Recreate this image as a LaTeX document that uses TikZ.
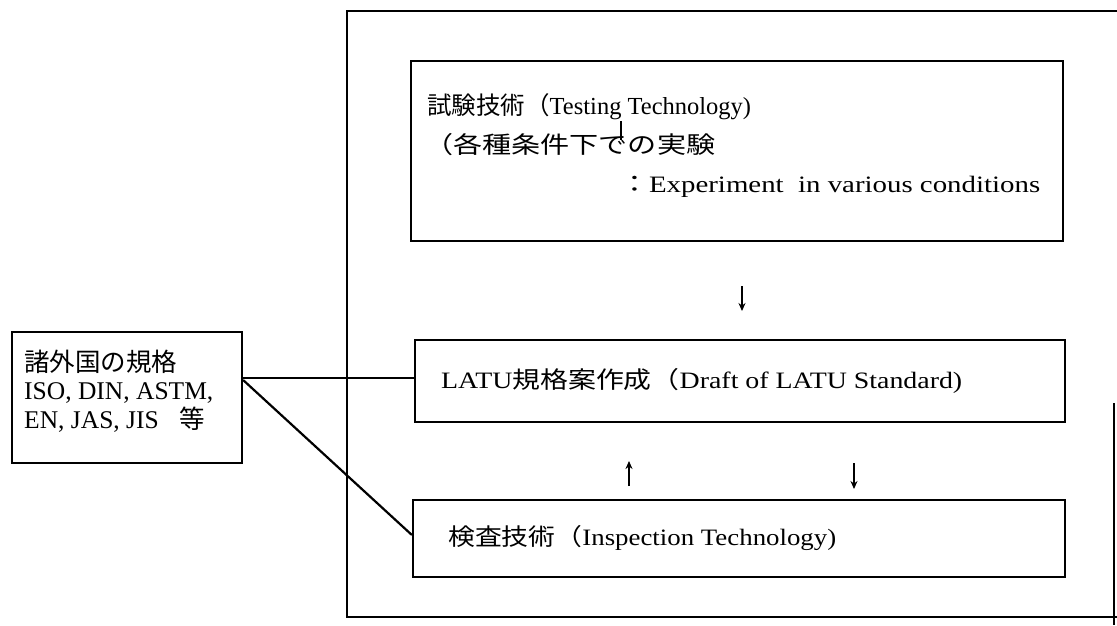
\documentclass[tikz,border=0pt]{standalone}
\usepackage{graphicx}
\usepackage{fontspec}
\setmainfont{Liberation Serif}
\newfontfamily\jp{Noto Sans CJK JP}
\usetikzlibrary{arrows.meta}
\newcommand{\wfit}[2]{\resizebox{#1pt}{\height}{#2}}
\begin{document}
\begin{tikzpicture}[x=1pt,y=-1pt,
  box/.style={draw,line width=2.2pt,inner sep=0pt},
  txt/.style={anchor=base west,inner sep=0pt,font=\fontsize{23.5}{26}\selectfont},
  ltxt/.style={anchor=base west,inner sep=0pt,font=\fontsize{25.5}{28}\selectfont},
  conn/.style={line width=1.5pt},
  diag/.style={line width=2.2pt},
  arr/.style={line width=2pt,-{Stealth[length=8pt,width=7pt]}},
  frame/.style={line width=2.6pt}
]
\useasboundingbox (0,0) rectangle (1117,625);
% outer frame
\coordinate (f1) at (1117,11);
\coordinate (f2) at (347,11);
\coordinate (f3) at (347,617);
\coordinate (f4) at (1117,617);
\draw[frame] (f1) -- (f2) -- (f3) -- (f4);
\coordinate (r1) at (1114,403);
\coordinate (r2) at (1114,625);
\draw[line width=1.8pt] (r1) -- (r2);
% boxes
\node[box,minimum width=652pt,minimum height=180pt] (test) at (737,151) {};
\node[box,minimum width=650pt,minimum height=82pt] (latu) at (740,381) {};
\node[box,minimum width=652pt,minimum height=77pt] (insp) at (739,538.5) {};
\node[box,minimum width=230pt,minimum height=131pt] (ext) at (127,397.5) {};
% texts
\node[txt,font=\fontsize{24.5}{26}\selectfont] (t1) at (427,114) {{\jp 試験技術（}Testing Technology)};
\node[txt] (t2) at (424,153) {\wfit{291}{\jp （各種条件下での実験}};
\node[txt] (t3) at (620,192) {\wfit{420}{{\jp ：}Experiment\ \ in various conditions}};
\node[txt] (t4) at (441,388) {\wfit{521}{LATU{\jp 規格案作成（}Draft of LATU Standard)}};
\node[txt] (t5) at (448,545) {\wfit{388}{{\jp 検査技術（}Inspection Technology)}};
\node[ltxt] (t6) at (24,371) {\jp 諸外国の規格};
\node[ltxt] (t7) at (24,399.5) {ISO,\ DIN,\ ASTM,};
\node[ltxt] (t8) at (24,428) {EN,\ JAS,\ JIS\hspace{0.8em}{\jp 等}};
% small tick under Testing
\coordinate (k1) at (621,121);
\coordinate (k2) at (621,140);
\draw[line width=1.8pt] (k1) -- (k2);
% arrows
\coordinate (a1) at (742,286);
\coordinate (a2) at (742,311);
\draw[arr] (a1) -- (a2);
\coordinate (b1) at (629,486);
\coordinate (b2) at (629,461);
\draw[arr] (b1) -- (b2);
\coordinate (c1) at (854,463);
\coordinate (c2) at (854,489);
\draw[arr] (c1) -- (c2);
% connectors
\coordinate (e1) at (ext.east |- 0,378);
\draw[conn] (e1) -- (latu.west |- e1);
\coordinate (e2) at (ext.east |- 0,380);
\draw[diag] (e2) -- (insp.west |- 0,535);
\end{tikzpicture}
\end{document}
